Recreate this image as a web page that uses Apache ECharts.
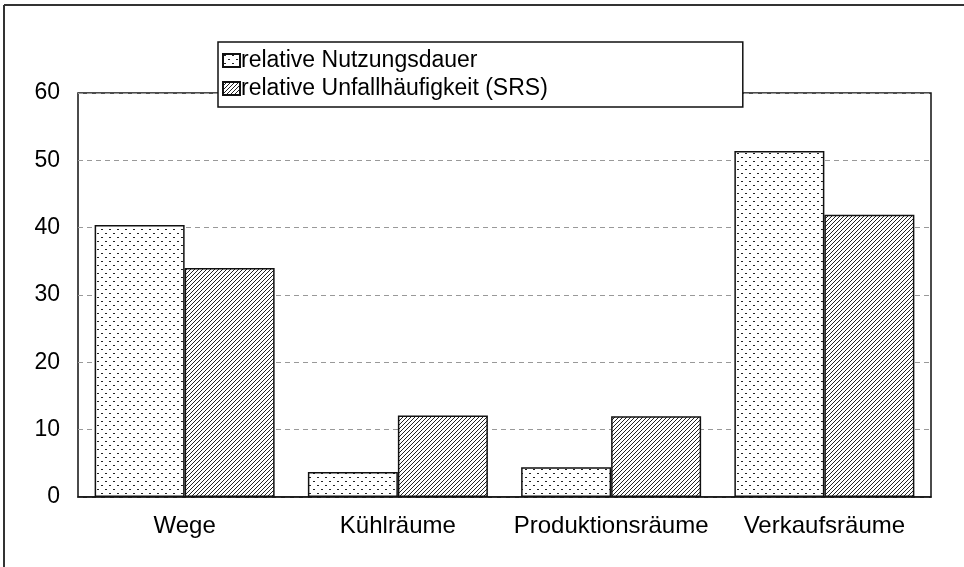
<!DOCTYPE html>
<html>
<head>
<meta charset="utf-8">
<script src="https://cdn.jsdelivr.net/npm/echarts@6/dist/echarts.min.js"></script>
<style>
  html, body { margin: 0; padding: 0; background: #fff; }
  #chart { width: 964px; height: 567px; }
</style>
</head>
<body>
<div id="chart"></div>
<script>
var categories = ['Wege', 'Kühlräume', 'Produktionsräume', 'Verkaufsräume'];
var seriesNames = ['relative Nutzungsdauer', 'relative Unfallhäufigkeit (SRS)'];
var nutzungsdauer = [40.4, 3.7, 4.4, 51.4];
var unfallhaeufigkeit = [34.0, 12.1, 12.0, 41.9];
var yTicks = [0, 10, 20, 30, 40, 50, 60];

// dotted fill: little pairs of dots, rows staggered
function dotPattern(){
	var c = document.createElement('canvas');
	c.width = 8; c.height = 8;
	var ctx = c.getContext('2d');
	ctx.fillStyle = '#fff';
	ctx.fillRect(0, 0, 8, 8);
	ctx.fillStyle = '#222';
	ctx.fillRect(1, 1, 2, 1);
	ctx.fillRect(5, 5, 2, 1);
	return c;
}
// hatched fill: ////
function hatchPattern(){
	var s = 4;
	var c = document.createElement('canvas');
	c.width = s; c.height = s;
	var ctx = c.getContext('2d');
	ctx.fillStyle = '#fff';
	ctx.fillRect(0, 0, s, s);
	ctx.strokeStyle = '#222';
	ctx.lineWidth = 1;
	ctx.beginPath();
	ctx.moveTo(-1, s + 1); ctx.lineTo(s + 1, -1);
	ctx.moveTo(-1, 1); ctx.lineTo(1, -1);
	ctx.moveTo(s - 1, s + 1); ctx.lineTo(s + 1, s - 1);
	ctx.stroke();
	return c;
}

var font = 'Liberation Sans, Arial, sans-serif';
var chart = echarts.init(document.getElementById('chart'));
var option = {
	animation: false,
	backgroundColor: '#fff',
	textStyle: { fontFamily: font },
	grid: {
		left: 78, right: 33, top: 93, bottom: 70,
		show: true,
		borderColor: '#111',
		borderWidth: 1.5
	},
	legend: {
		orient: 'vertical',
		left: 218,
		top: 42,
		padding: [6, 195, 6, 4],
		itemGap: 3,
		itemWidth: 17,
		itemHeight: 13,
		icon: 'rect',
		backgroundColor: '#fff',
		borderColor: '#111',
		borderWidth: 1.5,
		z: 10,
		textStyle: { fontSize: 23, color: '#000', fontFamily: font, lineHeight: 25, padding: [0, 0, 0, -4] },
		data: seriesNames
	},
	xAxis: {
		type: 'category',
		data: categories,
		axisLine: { show: true, lineStyle: { color: '#111', width: 1.5 } },
		axisTick: { show: false },
		axisLabel: { interval: 0, fontSize: 24, color: '#000', margin: 17, fontFamily: font }
	},
	yAxis: {
		type: 'value',
		min: yTicks[0],
		max: yTicks[yTicks.length - 1],
		interval: 10,
		axisLine: { show: false },
		axisTick: { show: false },
		axisLabel: { fontSize: 23, color: '#000', margin: 18, fontFamily: font },
		splitLine: { show: true, lineStyle: { color: '#999', type: [5, 4], width: 1 } }
	},
	series: [
		{
			name: seriesNames[0],
			type: 'bar',
			barWidth: 90,
			barGap: '0%',
			data: nutzungsdauer,
			itemStyle: {
				color: { image: dotPattern(), repeat: 'repeat' },
				borderColor: '#111',
				borderWidth: 1.5
			}
		},
		{
			name: seriesNames[1],
			type: 'bar',
			barWidth: 90,
			barGap: '0%',
			data: unfallhaeufigkeit,
			itemStyle: {
				color: { image: hatchPattern(), repeat: 'repeat' },
				borderColor: '#111',
				borderWidth: 1.5
			}
		}
	],
	graphic: [
		{ type: 'line', shape: { x1: 4, y1: 5, x2: 964, y2: 5 }, style: { stroke: '#333', lineWidth: 2 } },
		{ type: 'line', shape: { x1: 4, y1: 5, x2: 4, y2: 567 }, style: { stroke: '#333', lineWidth: 2 } }
	]
};
chart.setOption(option);
</script>
</body>
</html>
